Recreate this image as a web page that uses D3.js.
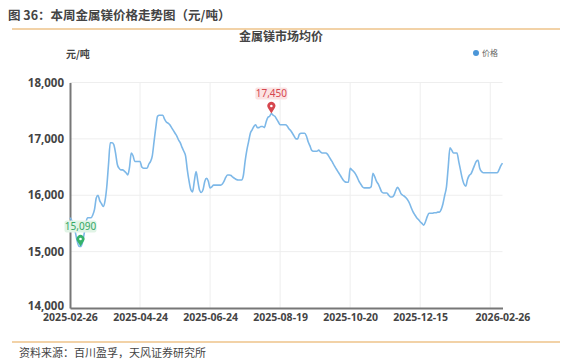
<!DOCTYPE html>
<html>
<head>
<meta charset="utf-8">
<script src="https://cdn.jsdelivr.net/npm/d3@7"></script>
<style>
  body { margin: 0; background: #fff; }
  svg { display: block; font-family: "Noto Sans CJK SC", "Noto Sans", sans-serif; }
</style>
</head>
<body>
<svg id="chart" width="573" height="363"></svg>
<script>
// price series, one value per trading day (元/吨)
var prices = [
  15600, 15550, 15450, 15350, 15200, 15100, 15090, 15150, 15300, 15500,
  15600, 15600, 15600, 15650, 15750, 15950, 16000, 15900, 15850, 15800,
  15900, 16150, 16550, 16930, 16930, 16900, 16750, 16550, 16480, 16450,
  16450, 16430, 16400, 16360, 16500, 16750, 16700, 16600, 16600, 16600,
  16600, 16500, 16480, 16480, 16480, 16550, 16600, 16700, 16950, 17200,
  17400, 17420, 17420, 17420, 17350, 17300, 17280, 17250, 17200, 17150,
  17100, 17050, 16980, 16930, 16850, 16780, 16700, 16450, 16250, 16100,
  16060, 16250, 16420, 16250, 16090, 16050, 16100, 16250, 16300, 16250,
  16130, 16150, 16180, 16180, 16180, 16180, 16180, 16200, 16250, 16320,
  16360, 16360, 16350, 16320, 16300, 16280, 16270, 16270, 16270, 16350,
  16600, 16800, 16950, 17100, 17160, 17220, 17250, 17200, 17200, 17220,
  17220, 17200, 17300, 17380, 17400, 17450, 17420, 17400, 17350, 17300,
  17250, 17250, 17250, 17250, 17230, 17180, 17150, 17100, 17050, 17000,
  17000, 17080, 17100, 17100, 17100, 17050, 16950, 16880, 16800, 16780,
  16780, 16780, 16800, 16770, 16750, 16750, 16750, 16730, 16680, 16630,
  16580, 16520, 16470, 16420, 16370, 16320, 16270, 16240, 16230, 16230,
  16480, 16450, 16420, 16380, 16320, 16250, 16200, 16150, 16130, 16130,
  16130, 16130, 16150, 16390, 16330, 16250, 16200, 16130, 16060, 16040,
  16040, 16040, 16000, 15970, 15970, 16000, 16080, 16140, 16100, 16030,
  16000, 15980, 15950, 15910, 15850, 15770, 15700, 15650, 15600, 15570,
  15530, 15500, 15470, 15530, 15620, 15680, 15680, 15680, 15690, 15690,
  15700, 15700, 15750, 15850, 16000, 16150, 16500, 16840, 16800, 16750,
  16750, 16750, 16600, 16450, 16300, 16200, 16160, 16280, 16350, 16380,
  16450, 16530, 16600, 16620, 16480, 16420, 16400, 16400, 16400, 16400,
  16400, 16400, 16400, 16400, 16400, 16450, 16520, 16570
];

// category labels shown on the x axis and where they fall in the series
var dateLabels = ["2025-02-26", "2025-04-24", "2025-06-24", "2025-08-19", "2025-10-20", "2025-12-15", "2026-02-26"];
var labelIndex = [0, 40, 80, 120, 160, 200, 247];
var gridIndex = [40, 80, 120, 160, 200, 240];
var yTicks = [14000, 15000, 16000, 17000, 18000];

var svg = d3.select("#chart");

var x = d3.scaleLinear().domain([0, prices.length - 1]).range([70, 502.5]);
var y = d3.scaleLinear().domain([14000, 18000]).range([308, 82.5]);

// header
svg.append("text")
  .attr("x", 8).attr("y", 20)
  .attr("font-size", 12.5).attr("font-weight", "bold").attr("fill", "#444")
  .text("图 36：本周金属镁价格走势图（元/吨）");
svg.append("line")
  .attr("x1", 12).attr("x2", 560).attr("y1", 29).attr("y2", 29)
  .attr("stroke", "#e6a550").attr("stroke-width", 1.2);

svg.append("text")
  .attr("x", 281).attr("y", 41).attr("text-anchor", "middle")
  .attr("font-size", 12).attr("font-weight", "bold").attr("fill", "#444")
  .text("金属镁市场均价");

svg.append("text")
  .attr("x", 66).attr("y", 58)
  .attr("font-size", 10).attr("font-weight", "bold").attr("fill", "#444")
  .text("元/吨");

// legend
svg.append("circle").attr("cx", 476).attr("cy", 53).attr("r", 3).attr("fill", "#4b96d8");
svg.append("text")
  .attr("x", 482).attr("y", 56)
  .attr("font-size", 8).attr("fill", "#666")
  .text("价格");

// gridlines
svg.append("g").selectAll("line").data(yTicks.slice(1)).join("line")
  .attr("x1", 70).attr("x2", 502.5)
  .attr("y1", d => y(d)).attr("y2", d => y(d))
  .attr("stroke", "#eeeeee").attr("stroke-width", 1);
svg.append("g").selectAll("line").data(gridIndex).join("line")
  .attr("x1", d => x(d)).attr("x2", d => x(d))
  .attr("y1", 82.5).attr("y2", 308)
  .attr("stroke", "#eeeeee").attr("stroke-width", 1);

// y axis
var yAxis = svg.append("g")
  .attr("transform", "translate(70,0)")
  .call(d3.axisLeft(y).tickValues(yTicks).tickSize(0).tickPadding(6).tickFormat(d3.format(",")));
yAxis.select(".domain").attr("stroke", "#777").attr("stroke-width", 2);
yAxis.selectAll("text")
  .attr("font-size", 11.5).attr("font-weight", "bold").attr("fill", "#444")
  .attr("font-family", "Noto Sans, sans-serif");
// lowest label sits just above the date labels
yAxis.selectAll(".tick").filter(d => d === 14000).select("text").attr("dy", "0.1em");

// x axis
var xAxis = svg.append("g")
  .attr("transform", "translate(0,308)")
  .call(d3.axisBottom(x).tickValues(labelIndex).tickSize(0).tickPadding(6)
    .tickFormat((d, i) => dateLabels[i]));
xAxis.select(".domain").attr("stroke", "#777").attr("stroke-width", 2);
xAxis.selectAll("text")
  .attr("font-size", 10.5).attr("font-weight", "bold").attr("fill", "#444")
  .attr("font-family", "Noto Sans, sans-serif");

// price line
var line = d3.line()
  .x((d, i) => x(i))
  .y(d => y(d))
  .curve(d3.curveMonotoneX);

svg.append("path")
  .datum(prices)
  .attr("d", line)
  .attr("fill", "none")
  .attr("stroke", "#7db8e8")
  .attr("stroke-width", 1.6);

// max / min markers
function pin(i, color, bg, txtColor) {
  var px = x(i), py = y(prices[i]);
  var g = svg.append("g");
  g.append("path")
    .attr("d", "M" + px + "," + py +
      " L" + (px - 3.4) + "," + (py - 5.5) +
      " A4,4 0 1,1 " + (px + 3.4) + "," + (py - 5.5) + " Z")
    .attr("fill", color);
  g.append("circle").attr("cx", px).attr("cy", py - 7.5).attr("r", 1.3).attr("fill", "#fff");
  var label = d3.format(",")(prices[i]);
  g.append("rect")
    .attr("x", px - 16).attr("y", py - 26)
    .attr("width", 32).attr("height", 12).attr("rx", 2)
    .attr("fill", bg);
  g.append("text")
    .attr("x", px).attr("y", py - 16.5).attr("text-anchor", "middle")
    .attr("font-size", 10).attr("fill", txtColor)
    .attr("font-family", "Noto Sans, sans-serif")
    .text(label);
}
var maxI = d3.maxIndex(prices);
var minI = d3.minIndex(prices);
pin(maxI, "#d6474f", "#fbe3e3", "#d6474f");
pin(minI, "#35b36b", "#e1f4e6", "#35a865");

// footer
svg.append("line")
  .attr("x1", 12).attr("x2", 560).attr("y1", 342).attr("y2", 342)
  .attr("stroke", "#e6a550").attr("stroke-width", 1.2);
svg.append("text")
  .attr("x", 19).attr("y", 357)
  .attr("font-size", 11).attr("fill", "#444")
  .text("资料来源：百川盈孚，天风证券研究所");
</script>
</body>
</html>
